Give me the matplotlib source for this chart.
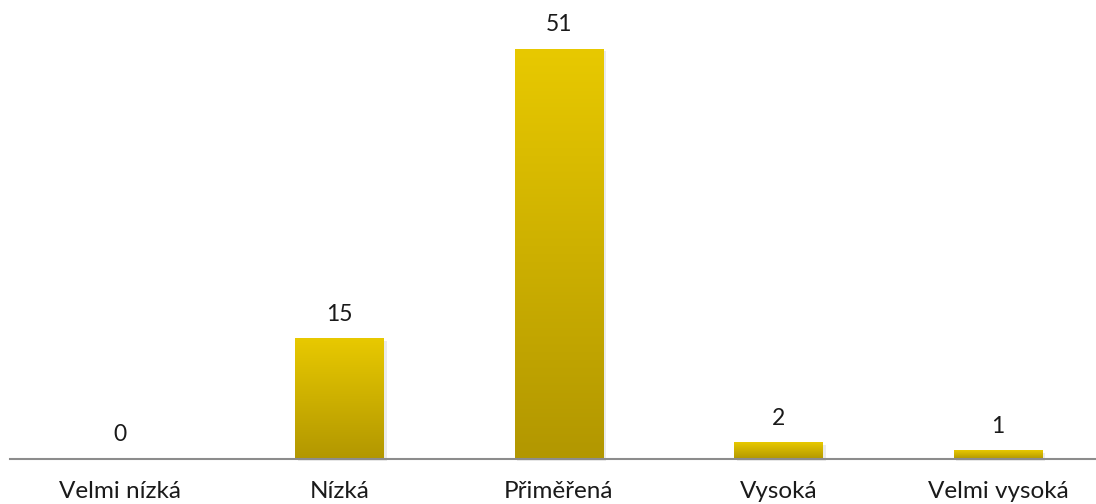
import matplotlib
matplotlib.use("Agg")
import matplotlib.pyplot as plt
import numpy as np
from matplotlib.colors import LinearSegmentedColormap

categories = ["Velmi nízká", "Nízká", "Přiměřená", "Vysoká", "Velmi vysoká"]
values = [0, 15, 51, 2, 1]

plt.rcParams['font.family'] = ['Lato', 'DejaVu Sans']

fig = plt.figure(figsize=(10.96, 5.04), dpi=100)
ax = fig.add_axes([10/1096, 45/504, 1098/1096, 459/504])
ax.set_xlim(-0.5, 4.5)
ax.set_ylim(0, 57.1)

cmap = LinearSegmentedColormap.from_list("g", ["#B29700", "#E8C900"])
grad = np.linspace(0, 1, 256).reshape(-1, 1)
bw = 0.405
x = np.arange(len(categories))
bars = ax.bar(x, values, width=bw, color="none", edgecolor="none")
for b, v in zip(bars, values):
    if v <= 0:
        continue
    x0, w, h = b.get_x(), b.get_width(), b.get_height()
    # subtle shadow
    ax.add_patch(plt.Rectangle((x0 + 0.012, -0.3), w, h, facecolor="#000000", alpha=0.08,
                               edgecolor="none", zorder=1, clip_on=False))
    ax.imshow(grad, extent=(x0, x0 + w, 0, h), origin="lower", cmap=cmap,
              aspect="auto", zorder=2, interpolation="bicubic")
for xi, v in zip(x, values):
    ax.text(xi, v + 3.0, str(v), ha="center", va="center", fontsize=16.5, color="#1a1a1a")

ax.set_xlim(-0.5, 4.5)
ax.set_ylim(0, 57.1)
for s in ["top", "right", "left"]:
    ax.spines[s].set_visible(False)
ax.spines["bottom"].set_color("#8c8c8c")
ax.spines["bottom"].set_linewidth(1.5)
ax.set_yticks([])
ax.set_xticks(x)
ax.set_xticklabels(categories, fontsize=17.5, color="#1a1a1a")
ax.tick_params(axis="x", length=0, pad=15.5)

fig.savefig("out.png", dpi=100)
